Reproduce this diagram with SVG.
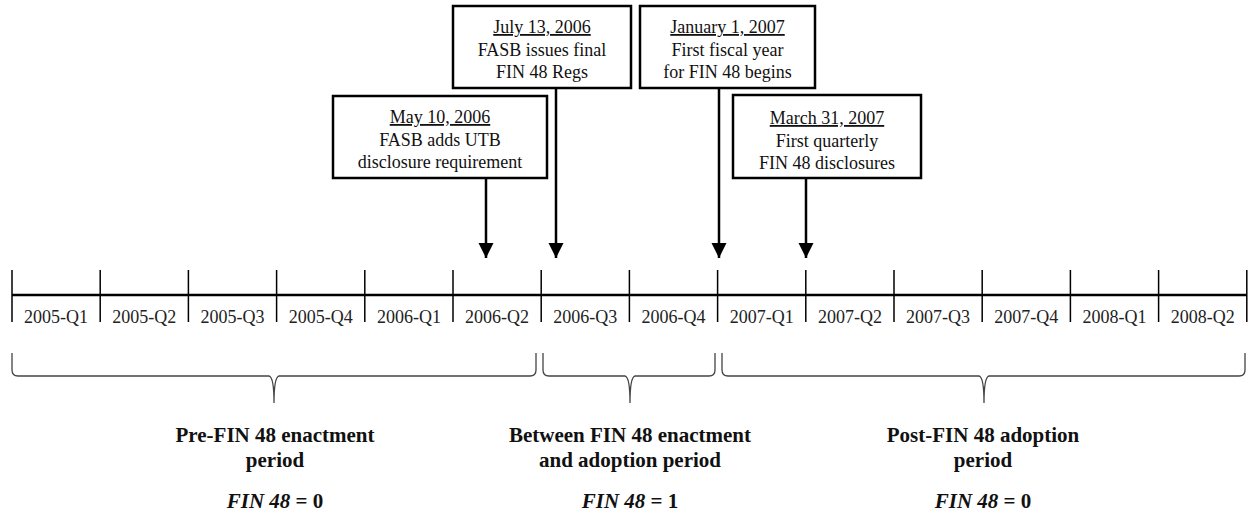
<svg xmlns="http://www.w3.org/2000/svg" width="1249" height="514" viewBox="0 0 1249 514">
<style>
.box{fill:#fff;stroke:#000;stroke-width:2.5}
.bt{font-size:18px;fill:#111;text-anchor:middle}
.ul{text-decoration:underline}
.tl{stroke:#000;stroke-width:2.5;fill:none}
.tick{stroke:#000;stroke-width:1.5}
.ql{font-size:18px;fill:#222;text-anchor:middle}
.arr{stroke:#000;stroke-width:2.5;fill:none;marker-end:url(#ah)}
.brace{stroke:#444;stroke-width:1.3;fill:none}
.pl{font-size:21px;font-weight:bold;fill:#111;text-anchor:middle}
.it{font-style:italic}
</style>
<defs>
<marker id="ah" markerUnits="userSpaceOnUse" markerWidth="16" markerHeight="16" refX="15" refY="7.5" orient="auto">
<path d="M0,0 L15,7.5 L0,15 Z" fill="#000"/>
</marker>
</defs>

<g id="connectors">
<line class="arr" x1="486" y1="179" x2="486" y2="258"/>
<line class="arr" x1="556" y1="88" x2="556" y2="258"/>
<line class="arr" x1="719" y1="88" x2="719" y2="258"/>
<line class="arr" x1="806" y1="178" x2="806" y2="258"/>
</g>

<g font-family="Liberation Serif, Times New Roman, serif">
<g id="box-jul13">
<rect class="box" x="453" y="6" width="178" height="82"/>
<text class="bt" x="542" y="33"><tspan class="ul">July 13, 2006</tspan></text>
<text class="bt" x="542" y="56">FASB issues final</text>
<text class="bt" x="542" y="78">FIN 48 Regs</text>
</g>

<g id="box-may10">
<rect class="box" x="333" y="96" width="214" height="82"/>
<text class="bt" x="440" y="123"><tspan class="ul">May 10, 2006</tspan></text>
<text class="bt" x="440" y="146">FASB adds UTB</text>
<text class="bt" x="440" y="168">disclosure requirement</text>
</g>

<g id="box-jan1">
<rect class="box" x="640" y="6" width="175" height="82"/>
<text class="bt" x="727.5" y="33"><tspan class="ul">January 1, 2007</tspan></text>
<text class="bt" x="727.5" y="56">First fiscal year</text>
<text class="bt" x="727.5" y="78">for FIN 48 begins</text>
</g>

<g id="box-mar31">
<rect class="box" x="733" y="95" width="188" height="83"/>
<text class="bt" x="827" y="124"><tspan class="ul">March 31, 2007</tspan></text>
<text class="bt" x="827" y="146.5">First quarterly</text>
<text class="bt" x="827" y="169">FIN 48 disclosures</text>
</g>

<g id="timeline">
<line class="tl" x1="12" y1="295" x2="1247" y2="295"/>
<line class="tick" x1="12" y1="270" x2="12" y2="322"/>
<line class="tick" x1="100.2" y1="270" x2="100.2" y2="322"/>
<line class="tick" x1="188.4" y1="270" x2="188.4" y2="322"/>
<line class="tick" x1="276.6" y1="270" x2="276.6" y2="322"/>
<line class="tick" x1="364.8" y1="270" x2="364.8" y2="322"/>
<line class="tick" x1="453" y1="270" x2="453" y2="322"/>
<line class="tick" x1="541.2" y1="270" x2="541.2" y2="322"/>
<line class="tick" x1="629.4" y1="270" x2="629.4" y2="322"/>
<line class="tick" x1="717.6" y1="270" x2="717.6" y2="322"/>
<line class="tick" x1="805.8" y1="270" x2="805.8" y2="322"/>
<line class="tick" x1="894" y1="270" x2="894" y2="322"/>
<line class="tick" x1="982.2" y1="270" x2="982.2" y2="322"/>
<line class="tick" x1="1070.4" y1="270" x2="1070.4" y2="322"/>
<line class="tick" x1="1158.6" y1="270" x2="1158.6" y2="322"/>
<line class="tick" x1="1246.8" y1="270" x2="1246.8" y2="322"/>
<text class="ql" x="56.1" y="323">2005-Q1</text>
<text class="ql" x="144.3" y="323">2005-Q2</text>
<text class="ql" x="232.5" y="323">2005-Q3</text>
<text class="ql" x="320.7" y="323">2005-Q4</text>
<text class="ql" x="408.9" y="323">2006-Q1</text>
<text class="ql" x="497.1" y="323">2006-Q2</text>
<text class="ql" x="585.3" y="323">2006-Q3</text>
<text class="ql" x="673.5" y="323">2006-Q4</text>
<text class="ql" x="761.7" y="323">2007-Q1</text>
<text class="ql" x="849.9" y="323">2007-Q2</text>
<text class="ql" x="938.1" y="323">2007-Q3</text>
<text class="ql" x="1026.3" y="323">2007-Q4</text>
<text class="ql" x="1114.5" y="323">2008-Q1</text>
<text class="ql" x="1202.7" y="323">2008-Q2</text>
</g>

<g id="brace-pre">
<path class="brace" d="M12,353 L12,370 Q12,376 18,376 L269,376 Q274,377 274,403 Q274,377 279,376 L530,376 Q536,376 536,370 L536,353"/>
<text class="pl" x="275" y="442">Pre-FIN 48 enactment</text>
<text class="pl" x="275" y="467">period</text>
<text class="pl" x="275" y="508"><tspan class="it">FIN 48</tspan> = 0</text>
</g>

<g id="brace-between">
<path class="brace" d="M543,353 L543,370 Q543,376 549,376 L625,376 Q630,377 630,403 Q630,377 635,376 L709,376 Q715,376 715,370 L715,353"/>
<text class="pl" x="630" y="442">Between FIN 48 enactment</text>
<text class="pl" x="630" y="467">and adoption period</text>
<text class="pl" x="630" y="508"><tspan class="it">FIN 48</tspan> = 1</text>
</g>

<g id="brace-post">
<path class="brace" d="M722,353 L722,370 Q722,376 728,376 L979,376 Q984,377 984,403 Q984,377 989,376 L1239,376 Q1245,376 1245,370 L1245,353"/>
<text class="pl" x="983" y="442">Post-FIN 48 adoption</text>
<text class="pl" x="983" y="467">period</text>
<text class="pl" x="983" y="508"><tspan class="it">FIN 48</tspan> = 0</text>
</g>
</g>
</svg>
